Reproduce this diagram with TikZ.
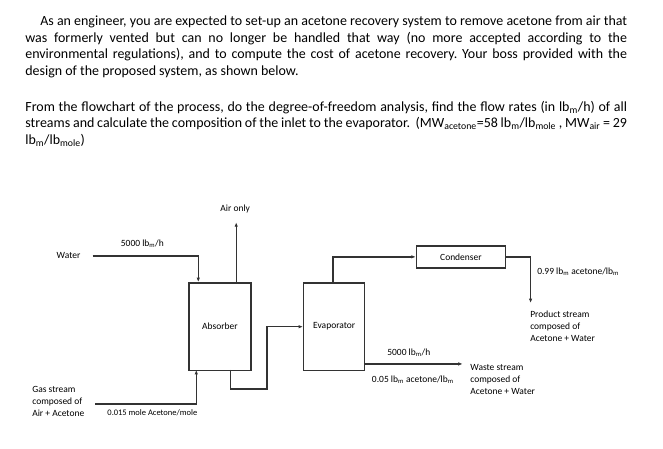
\documentclass[tikz,border=0pt]{standalone}
\usepackage{fontspec}
\setmainfont{Carlito}
\usetikzlibrary{arrows.meta}
\newcommand{\lbm}{lb\textsubscript{m}}
\newcommand{\lsub}[1]{\textsubscript{#1}}
\frenchspacing
\begin{document}
\begin{tikzpicture}[x=1pt,y=-1pt,
  line width=1.4pt,
  every path/.style={draw=black!80},
  >={Latex[length=4.5pt,width=3.5pt]},
  unit/.style={draw=black!80, line width=1.4pt, inner sep=0pt, anchor=north west,
    font=\fontsize{9.5}{11.5}\selectfont, text=black},
  lbl/.style={font=\fontsize{9.5}{12}\selectfont, inner sep=0pt, text=black},
  small/.style={font=\fontsize{8.5}{10}\selectfont, inner sep=0pt, text=black},
  multi/.style={lbl, align=left, anchor=north west},
  para/.style={font=\fontsize{14}{16.7}\selectfont, inner sep=0pt, anchor=base west,
    text width=603pt, align=justify, text=black}]
\useasboundingbox (0,0) rectangle (663,448);
\fill[white] (0,0) rectangle (663,448);

% text
\node[para] (p1) at (24,25) {\hspace*{15pt}As an engineer, you are expected to set-up an acetone recovery system to remove acetone from air that\linebreak
was formerly vented but can no longer be handled that way (no more accepted according to the\linebreak
environmental regulations), and to compute the cost of acetone recovery. Your boss provided with the\linebreak
design of the proposed system, as shown below.};
\node[para] (p2) at (24,110.7) {From the flowchart of the process, do the degree-of-freedom analysis, find the flow rates (in lb\lsub{m}/h) of all\linebreak
streams and calculate the composition of the inlet to the evaporator.\ \ (MW\lsub{acetone}=58 lb\lsub{m}/lb\lsub{mole} , MW\lsub{air} = 29\linebreak
lb\lsub{m}/lb\lsub{mole})};

% units
\node[unit, minimum width=62pt, minimum height=88pt] (abs) at (188,282) {Absorber};
\node[unit, minimum width=61pt, minimum height=88pt] (evap) at (303,282) {Evaporator};
\node[unit, minimum width=89pt, minimum height=22pt] (cond) at (416,245) {Condenser};

% coordinates
\coordinate (win) at (92,256);
\coordinate (absinw) at (198,282);
\coordinate (abstop) at (236,282);
\coordinate (airout) at (236,222);
\coordinate (gin) at (95,404);
\coordinate (absing) at (196,370);
\coordinate (absout) at (230,370);
\coordinate (evtop) at (333,282);
\coordinate (prod) at (531,303);
\coordinate (evout) at (364,364);
\coordinate (waste) at (463,364);

% connectors
\draw[->] (win) -| (absinw);
\draw[->] (abstop) -- (airout);
\draw[->] (gin) -| (absing);
\draw[->] (absout) -- (230,389) -- (267,389) |- (evap.west);
\draw[->] (evtop) |- (cond.west);
\draw[->] (cond.east) -| (prod);
\draw[->] (evout) -- (waste);

% labels
\node[lbl] (lwater) at (68,255) {Water};
\node[lbl] (lwflow) at (142,244) {5000 \lbm/h};
\node[lbl] (lair) at (235,209) {Air only};
\node[multi] (lgas) at (31,386) {Gas stream\\composed of\\Air + Acetone};
\node[small] (lgcomp) at (152,413) {0.015 mole Acetone/mole};
\node[lbl, anchor=west] (lprodc) at (537,272) {0.99 \lbm{} acetone/\lbm};
\node[multi] (lprod) at (530,310) {Product stream\\composed of\\Acetone + Water};
\node[lbl] (lwsflow) at (409,353) {5000 \lbm/h};
\node[lbl] (lwsc) at (413,380) {0.05 \lbm{} acetone/\lbm};
\node[multi] (lwaste) at (470,364) {Waste stream\\composed of\\Acetone + Water};
\end{tikzpicture}
\end{document}
